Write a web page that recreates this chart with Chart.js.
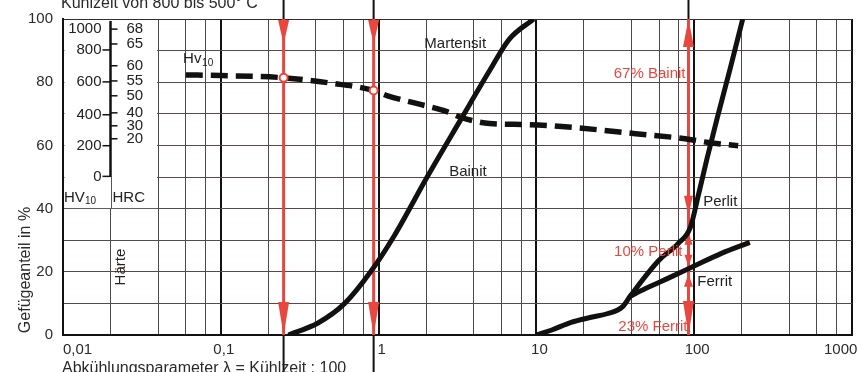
<!DOCTYPE html>
<html>
<head>
<meta charset="utf-8">
<script src="https://cdn.jsdelivr.net/npm/chart.js@4.4.0/dist/chart.umd.min.js"></script>
<style>
  html, body { margin: 0; padding: 0; background: #fff; }
</style>
</head>
<body>
<canvas id="chart" width="858" height="372"></canvas>
<script>
// Abkühlungsparameter λ (x, logarithmisch) und Gefügeanteil in % (y)
const hvLambda = [0.06, 0.1, 0.25, 0.5, 0.93, 1.14, 1.76, 2.6, 3.37, 5.05, 8.6, 17.8, 42.6, 87.5, 123, 190];
const hvPct = [82.3, 82.1, 81.4, 79.7, 77.4, 75.7, 73.2, 71, 68.8, 66.9, 66.6, 65.6, 63.7, 62.1, 60.9, 59.9];

const martLambda = [0.268, 0.413, 0.61, 0.89, 1.26, 2.03, 3.3, 5.1, 6.7, 9.6];
const martPct = [0, 3.8, 10, 20, 31.5, 50, 68, 84, 93.5, 100];

const perlitLambda = [10, 12.4, 16.6, 22.2, 28.4, 35.2, 39.3, 59.4, 79.3, 94.4, 106, 120.8, 139.6, 168.4, 203];
const perlitPct = [0, 1.5, 4, 5.6, 6.8, 9, 12.3, 23.5, 29, 34, 44, 56, 68.5, 84, 100];

const ferritLambda = [39.3, 48.8, 68.6, 97, 150, 225];
const ferritPct = [12.3, 14.6, 18, 21.5, 25.9, 29.3];

// Härteskala links im Diagramm (Lage in % der Gefügeachse)
const hvScale = [0, 200, 400, 600, 800, 1000];
const hvScalePct = [50.2, 59.9, 69.7, 80.1, 90.2, 96.8];
const hrcScale = [20, 30, 40, 50, 55, 60, 65, 68];
const hrcScalePct = [62.1, 66.2, 70.3, 75.7, 80.4, 85.2, 92.1, 96.8];

// rote Ablesepfeile
const arrowLambda = [0.25, 0.93, 92];
const markLambda = [0.25, 0.93];
const markPct = [81.4, 77.4];
const splitPct = [0, 21, 33, 100]; // Ferrit | Perlit | Bainit bei λ = 92
const splitLabels = ["23% Ferrit", "10% Perlit", "67% Bainit"];

const xLabelValues = [0.01, 0.1, 1, 10, 100, 1000];
const xLabels = ["0,01", "0,1", "1", "10", "100", "1000"];
const gridSteps = [1, 2, 4, 6, 8];

const RED = "#e8473f";
const FONT = "'Liberation Sans', Arial, sans-serif";
Chart.defaults.font.family = FONT;

function pts(xs, ys) {
  return xs.map((v, i) => ({ x: v, y: ys[i] }));
}

function head(ctx, x, tip, dir, len, w) {
  // dir = 1 -> Spitze nach unten, -1 -> nach oben
  ctx.beginPath();
  ctx.moveTo(x, tip);
  ctx.lineTo(x - w / 2, tip - dir * len);
  ctx.lineTo(x + w / 2, tip - dir * len);
  ctx.closePath();
  ctx.fill();
}

const paper = {
  id: "paper",
  beforeDatasetsDraw(chart) {
    const { ctx, scales: { x, y } } = chart;
    const top = y.getPixelForValue(100), bot = y.getPixelForValue(0);
    const x1 = x.getPixelForValue(0.01), x2 = x.getPixelForValue(0.02), x4 = x.getPixelForValue(0.04);
    ctx.save();

    // Feld für die Härteskala frei machen
    ctx.fillStyle = "#fff";
    ctx.fillRect(x1 + 1.5, top + 1, x4 - x1 - 2.5, y.getPixelForValue(40) - top - 1.5);
    ctx.strokeStyle = "#555";
    ctx.lineWidth = 1;
    ctx.beginPath();
    ctx.moveTo(Math.round(x2) + 0.5, y.getPixelForValue(50));
    ctx.lineTo(Math.round(x2) + 0.5, y.getPixelForValue(40));
    ctx.stroke();

    ctx.strokeStyle = "#111";
    ctx.lineWidth = 2.5;
    ctx.beginPath();
    ctx.moveTo(x2, top + 2);
    ctx.lineTo(x2, y.getPixelForValue(50));
    ctx.stroke();

    ctx.fillStyle = "#222";
    ctx.font = "15px " + FONT;
    ctx.textBaseline = "middle";
    ctx.lineWidth = 1.5;
    hvScale.forEach((v, i) => {
      const py = y.getPixelForValue(hvScalePct[i]);
      ctx.textAlign = "right";
      ctx.fillText(String(v), x2 - 9, py);
      if (v !== 1000) {
        ctx.beginPath();
        ctx.moveTo(x2 - 8, py);
        ctx.lineTo(x2, py);
        ctx.stroke();
      }
    });
    hrcScale.forEach((v, i) => {
      const py = y.getPixelForValue(hrcScalePct[i]);
      ctx.textAlign = "left";
      ctx.fillText(String(v), x2 + 16, py);
      ctx.beginPath();
      ctx.moveTo(x2, py);
      ctx.lineTo(x2 + 7, py);
      ctx.stroke();
    });
    ctx.textAlign = "left";
    ctx.fillText("HV", x1 + 1, y.getPixelForValue(43.3));
    ctx.font = "10px " + FONT;
    ctx.fillText("10", x1 + 22, y.getPixelForValue(42.2));
    ctx.font = "15px " + FONT;
    ctx.fillText("HRC", x2 + 2, y.getPixelForValue(43.3));
    ctx.save();
    ctx.translate(x2 + 10, y.getPixelForValue(21.5));
    ctx.rotate(-Math.PI / 2);
    ctx.textAlign = "center";
    ctx.fillText("Härte", 0, 0);
    ctx.restore();

    // schwarze Verbindungslinien ausserhalb des Diagramms
    ctx.strokeStyle = "#111";
    ctx.lineWidth = 2;
    arrowLambda.forEach((l, i) => {
      const px = x.getPixelForValue(l);
      ctx.beginPath();
      ctx.moveTo(px, 0);
      ctx.lineTo(px, top);
      if (i < 2) {
        ctx.moveTo(px, bot);
        ctx.lineTo(px, chart.height);
      }
      ctx.stroke();
    });

    // rote Linien und Pfeilspitzen
    ctx.strokeStyle = RED;
    ctx.fillStyle = RED;
    ctx.lineWidth = 3;
    arrowLambda.forEach((l) => {
      const px = x.getPixelForValue(l);
      ctx.beginPath();
      ctx.moveTo(px, top);
      ctx.lineTo(px, bot);
      ctx.stroke();
    });
    [0, 1].forEach((i) => {
      const px = x.getPixelForValue(arrowLambda[i]);
      head(ctx, px, top + 25, 1, 24, 11);
      head(ctx, px, bot, 1, 33, 11);
    });
    const pr = x.getPixelForValue(arrowLambda[2]);
    const s = splitPct.map((v) => y.getPixelForValue(v));
    head(ctx, pr, s[3], -1, 28, 11);
    head(ctx, pr, s[2] - 16, 1, 19, 9);
    head(ctx, pr, s[2] + 2, -1, 12, 8);
    head(ctx, pr, s[1] - 2, 1, 12, 8);
    head(ctx, pr, s[1] + 5, -1, 13, 9);
    head(ctx, pr, s[0], 1, 34, 11);
    ctx.restore();
  },
  afterDatasetsDraw(chart) {
    const { ctx, scales: { x, y } } = chart;
    ctx.save();
    ctx.textBaseline = "middle";
    ctx.textAlign = "left";
    ctx.fillStyle = "#222";
    ctx.font = "15px " + FONT;
    ctx.fillText("Martensit", x.getPixelForValue(1.95), y.getPixelForValue(92.1));
    ctx.fillText("Bainit", x.getPixelForValue(2.8), y.getPixelForValue(51.7));
    ctx.fillText("Perlit", x.getPixelForValue(114), y.getPixelForValue(42));
    ctx.fillText("Ferrit", x.getPixelForValue(104.5), y.getPixelForValue(16.7));
    ctx.font = "15px " + FONT;
    ctx.fillText("Hv", x.getPixelForValue(0.0577), y.getPixelForValue(87.3));
    ctx.font = "10px " + FONT;
    ctx.fillText("10", x.getPixelForValue(0.0577) + 19, y.getPixelForValue(85.9));

    // rote Anteile
    ctx.fillStyle = RED;
    ctx.font = "15px " + FONT;
    ctx.textAlign = "right";
    const pr = x.getPixelForValue(arrowLambda[2]);
    ctx.fillText(splitLabels[2], pr - 3, y.getPixelForValue(82.6));
    ctx.fillText(splitLabels[1], pr - 6, y.getPixelForValue(26.2));
    ctx.fillText(splitLabels[0], pr - 1, y.getPixelForValue(2.5));
    ctx.restore();
  },
  afterDraw(chart) {
    const { ctx, scales: { x, y } } = chart;
    ctx.save();
    ctx.fillStyle = "#2a2a2a";
    ctx.font = "15px " + FONT;
    ctx.textBaseline = "middle";
    xLabelValues.forEach((v, i) => {
      const px = x.getPixelForValue(v);
      if (i === 0) { ctx.textAlign = "left"; ctx.fillText(xLabels[i], px, 350); }
      else if (i === xLabels.length - 1) { ctx.textAlign = "left"; ctx.fillText(xLabels[i], px - 28, 350); }
      else { ctx.textAlign = "center"; ctx.fillText(xLabels[i], px + 3, 350); }
    });
    ctx.font = "16px " + FONT;
    ctx.textAlign = "left";
    ctx.textBaseline = "alphabetic";
    ctx.fillText("Kühlzeit von 800 bis 500° C", 61, 8);
    ctx.fillText("Abkühlungsparameter λ = Kühlzeit : 100", 62, 373);
    ctx.save();
    ctx.translate(26, 270);
    ctx.rotate(-Math.PI / 2);
    ctx.textAlign = "center";
    ctx.textBaseline = "middle";
    ctx.fillText("Gefügeanteil in %", 0, 0);
    ctx.restore();
    ctx.restore();
  }
};

new Chart(document.getElementById("chart"), {
  type: "line",
  data: {
    datasets: [
      {
        label: "Hv10",
        data: pts(hvLambda, hvPct),
        borderColor: "#111",
        borderWidth: 5.5,
        borderDash: [17, 8],
        cubicInterpolationMode: "monotone",
        pointRadius: 0
      },
      {
        label: "Martensit/Bainit",
        data: pts(martLambda, martPct),
        borderColor: "#111",
        borderWidth: 5,
        cubicInterpolationMode: "monotone",
        pointRadius: 0
      },
      {
        label: "Perlit",
        data: pts(perlitLambda, perlitPct),
        borderColor: "#111",
        borderWidth: 5,
        cubicInterpolationMode: "monotone",
        pointRadius: 0
      },
      {
        label: "Ferrit",
        data: pts(ferritLambda, ferritPct),
        borderColor: "#111",
        borderWidth: 5,
        cubicInterpolationMode: "monotone",
        pointRadius: 0
      },
      {
        label: "Ablesepunkte",
        data: pts(markLambda, markPct),
        order: -1,
        showLine: false,
        pointRadius: 4,
        pointBorderWidth: 2,
        pointBackgroundColor: "#fff",
        pointBorderColor: RED
      }
    ]
  },
  options: {
    responsive: false,
    animation: false,
    devicePixelRatio: 1,
    layout: { padding: { top: 18, right: 1, left: 0, bottom: 0 } },
    plugins: { legend: { display: false }, tooltip: { enabled: false }, title: { display: false } },
    scales: {
      x: {
        type: "logarithmic",
        min: 0.01,
        max: 1000,
        afterBuildTicks(scale) {
          const t = [];
          [0.01, 0.1, 1, 10, 100].forEach((d) => gridSteps.forEach((m) => t.push({ value: d * m })));
          t.push({ value: 1000 });
          scale.ticks = t;
        },
        afterFit(scale) { scale.height = 37; },
        ticks: { display: false },
        border: { display: true, color: "#111", width: 2 },
        grid: {
          drawTicks: false,
          color: (c) => {
            const v = c.tick && c.tick.value;
            return xLabelValues.some((d) => Math.abs(v / d - 1) < 1e-6) ? "#111" : "#4a4a4a";
          },
          lineWidth: (c) => {
            const v = c.tick && c.tick.value;
            return xLabelValues.some((d) => Math.abs(v / d - 1) < 1e-6) ? 2 : 1;
          }
        }
      },
      y: {
        min: 0,
        max: 100,
        afterFit(scale) { scale.width = 63; },
        ticks: {
          stepSize: 10,
          padding: 10,
          color: "#2a2a2a",
          font: { size: 15 },
          callback: (v) => (v % 20 === 0 ? String(v) : "")
        },
        border: { display: true, color: "#111", width: 2 },
        grid: {
          drawTicks: false,
          color: (c) => (c.tick && c.tick.value === 100 ? "#3a2a2a" : "#5a4747"),
          lineWidth: 1
        }
      }
    }
  },
  plugins: [paper]
});
</script>
</body>
</html>
